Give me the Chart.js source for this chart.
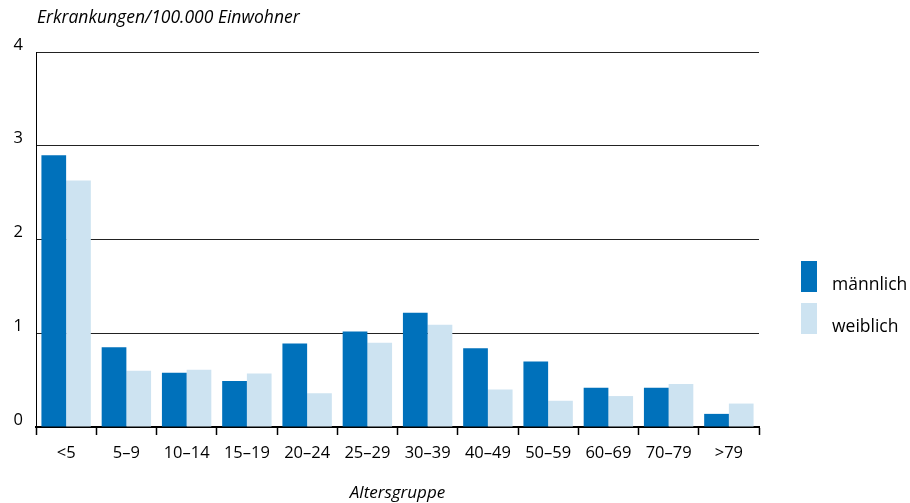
<!DOCTYPE html>
<html>
<head>
<meta charset="utf-8">
<script src="https://cdn.jsdelivr.net/npm/chart.js@4/dist/chart.umd.min.js"></script>
<style>
  html, body { margin: 0; padding: 0; background: #fff; }
  #wrap { width: 910px; height: 503px; }
</style>
</head>
<body>
<div id="wrap"><canvas id="chart" width="910" height="503"></canvas></div>
<script>
// data
var ageGroups = ['<5', '5–9', '10–14', '15–19', '20–24', '25–29', '30–39', '40–49', '50–59', '60–69', '70–79', '>79'];
var maleValues = [2.90, 0.85, 0.58, 0.49, 0.89, 1.02, 1.22, 0.84, 0.70, 0.42, 0.42, 0.14];
var femaleValues = [2.63, 0.60, 0.61, 0.57, 0.36, 0.90, 1.09, 0.40, 0.28, 0.33, 0.46, 0.25];
var yTicks = [0, 1, 2, 3, 4];

var FONT = '"Open Sans", "Noto Sans", sans-serif';

// y axis caption in the top left corner
var topCaption = {
    id: 'topCaption',
    afterDraw: function(chart) {
        var c = chart.ctx;
        c.save();
        c.font = 'italic 17.5px ' + FONT;
        c.fillStyle = '#000';
        c.textAlign = 'left';
        c.textBaseline = 'middle';
        c.fillText('Erkrankungen/100.000 Einwohner', chart.chartArea.left + 1, 18);
        c.restore();
    }
};

// legend on the right: tall boxes, text sitting low
var sideLegend = {
    id: 'sideLegend',
    afterDraw: function(chart) {
        var c = chart.ctx;
        var x = chart.chartArea.right + 42;
        var y = chart.chartArea.top + 209;
        c.save();
        c.font = '17.5px ' + FONT;
        c.textAlign = 'left';
        c.textBaseline = 'middle';
        chart.data.datasets.forEach(function(ds, i) {
            var top = y + i * 42;
            c.fillStyle = ds.backgroundColor;
            c.fillRect(x, top, 16, 31);
            c.fillStyle = '#000';
            c.fillText(ds.label, x + 31, top + 24);
        });
        c.restore();
    }
};

var ctx = document.getElementById('chart').getContext('2d');
var chart = new Chart(ctx, {
    type: 'bar',
    data: {
        labels: ageGroups,
        datasets: [{
            label: 'männlich',
            data: maleValues,
            backgroundColor: '#0071bb',
            borderWidth: 0
        }, {
            label: 'weiblich',
            data: femaleValues,
            backgroundColor: '#cde3f1',
            borderWidth: 0
        }]
    },
    options: {
        responsive: false,
        animation: false,
        categoryPercentage: 0.82,
        barPercentage: 1.0,
        layout: {
            padding: { left: 0, right: 151, top: 52, bottom: 0 }
        },
        plugins: {
            legend: { display: false },
            tooltip: { enabled: false },
            title: { display: false }
        },
        scales: {
            x: {
                offset: true,
                grid: {
                    display: true,
                    drawOnChartArea: false,
                    drawTicks: true,
                    tickLength: 8,
                    tickColor: '#000',
                    tickWidth: 1.5,
                    offset: true
                },
                border: { display: true, color: '#000', width: 2 },
                ticks: {
                    color: '#000',
                    font: { family: FONT, size: 16.5 },
                    padding: 8,
                    maxRotation: 0,
                    autoSkip: false
                },
                title: {
                    display: true,
                    text: 'Altersgruppe',
                    color: '#000',
                    font: { family: FONT, size: 17, style: 'italic' },
                    padding: { top: 20, bottom: 0 }
                },
                afterFit: function(scale) { scale.height = 76; }
            },
            y: {
                min: 0,
                max: 4,
                afterBuildTicks: function(scale) {
                    scale.ticks = yTicks.map(function(v) { return { value: v }; });
                },
                grid: {
                    color: '#222',
                    lineWidth: 1,
                    drawTicks: false
                },
                border: { display: true, color: '#000', width: 1 },
                ticks: {
                    color: '#000',
                    font: { family: FONT, size: 16.5 },
                    padding: 13,
                    labelOffset: -7
                },
                afterFit: function(scale) { scale.width = 36; }
            }
        }
    },
    plugins: [topCaption, sideLegend]
});
</script>
</body>
</html>
